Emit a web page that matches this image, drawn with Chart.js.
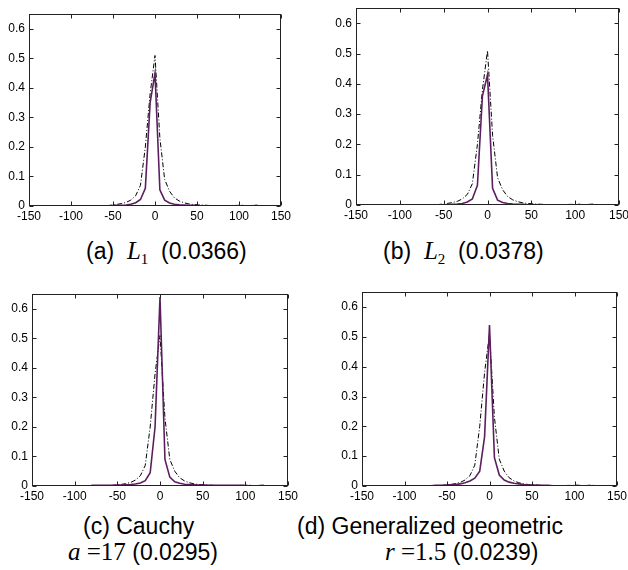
<!DOCTYPE html>
<html>
<head>
<meta charset="utf-8">
<script src="https://cdn.jsdelivr.net/npm/chart.js@4.4.1/dist/chart.umd.min.js"></script>
<style>
    body {
        margin: 0;
        width: 628px;
        height: 570px;
        background: #ffffff;
        position: relative;
        overflow: hidden;
        font-family: "Liberation Sans", Arial, sans-serif;
    }
    .panel { position: absolute; }
    .cap {
        position: absolute;
        font-size: 23px;
        line-height: 23px;
        white-space: nowrap;
        color: #000;
    }
    .mi { font-family: "Liberation Serif", serif; font-style: italic; font-size: 25px; line-height: 23px; }
    .mr { font-family: "Liberation Serif", serif; font-size: 25px; line-height: 23px; }
    .sub { font-family: "Liberation Serif", serif; font-size: 15px; line-height: 15px; position: relative; top: 5px; }
</style>
</head>
<body>

<div class="panel" id="pa"><canvas id="chartA"></canvas></div>
<div class="panel" id="pb"><canvas id="chartB"></canvas></div>
<div class="panel" id="pc"><canvas id="chartC"></canvas></div>
<div class="panel" id="pd"><canvas id="chartD"></canvas></div>

<div class="cap" style="left:86px; top:239px;">(a)&nbsp;&nbsp;<span class="mi">L</span><span class="sub">1</span>&nbsp;&nbsp;(0.0366)</div>
<div class="cap" style="left:383px; top:239px;">(b)&nbsp;&nbsp;<span class="mi">L</span><span class="sub">2</span>&nbsp;&nbsp;(0.0378)</div>
<div class="cap" style="left:83px; top:515px;">(c) Cauchy</div>
<div class="cap" style="left:68px; top:540px;"><span class="mi">a</span><span class="mr"> =17</span> (0.0295)</div>
<div class="cap" style="left:297px; top:515px;">(d) Generalized geometric</div>
<div class="cap" style="left:385px; top:540px;"><span class="mi">r</span><span class="mr"> =1.5</span> (0.0239)</div>

<script>
/* ===========================================
   DATA
=========================================== */

const xTicks = [-150, -100, -50, 0, 50, 100, 150];
const yTicks = [0, 0.1, 0.2, 0.3, 0.4, 0.5, 0.6];

// histogram bin centres
const bins = [
    -80.5, -74.8, -69, -63.3, -57.5, -51.8, -46, -40.3, -34.5, -28.8,
    -23, -17.3, -11.5, -5.8, 0, 5.8, 11.5, 17.3, 23, 28.8,
    34.5, 40.3, 46, 51.8, 57.5, 63.3, 69, 74.8, 80.5, 86.3,
    92, 97.8, 103.5, 109.3, 115, 120.8, 126.5, 132.3, 138, 143.8,
    149.5
];

// observed histogram (dash-dot, same in every panel)
const observed = [
    0, 0, 0, 0.001, 0.001, 0.003, 0.005, 0.008, 0.012, 0.02,
    0.035, 0.07, 0.2, 0.38, 0.51, 0.23, 0.09, 0.05, 0.028, 0.017,
    0.011, 0.007, 0.005, 0.004, 0.003, 0.002, 0.001, 0.001, 0.001, 0.001,
    0.002, 0.002, 0.003, 0.001, 0.002, 0.003, 0, 0, 0, 0,
    0
];

// fitted models (solid)
const fitL1 = [
    0.001, 0.001, 0.001, 0.001, 0.001, 0.001, 0.002, 0.002, 0.003, 0.006,
    0.011, 0.022, 0.06, 0.35, 0.45, 0.055, 0.02, 0.01, 0.006, 0.004,
    0.003, 0.002, 0.002, 0.001, 0.001, 0.001, 0.001, 0.001, 0.001, 0.001,
    0.001, 0.001, 0, 0, 0, 0, 0, 0, 0, 0,
    0
];

const fitL2 = [
    0.001, 0.001, 0.001, 0.001, 0.001, 0.001, 0.001, 0.002, 0.003, 0.005,
    0.01, 0.02, 0.065, 0.36, 0.43, 0.055, 0.016, 0.008, 0.005, 0.003,
    0.002, 0.002, 0.001, 0.001, 0.001, 0.001, 0.001, 0.001, 0.001, 0.001,
    0, 0, 0, 0, 0, 0, 0, 0, 0, 0,
    0
];

const fitCauchy = [
    0.002, 0.002, 0.002, 0.002, 0.002, 0.003, 0.003, 0.004, 0.005, 0.007,
    0.01, 0.018, 0.045, 0.2, 0.64, 0.09, 0.03, 0.014, 0.009, 0.006,
    0.005, 0.004, 0.003, 0.003, 0.002, 0.002, 0.002, 0.002, 0.002, 0.002,
    0.002, 0.002, 0.001, 0.001, 0.001, 0.001, 0.001, 0.001, 0.001, 0.001,
    0.001
];

const fitGeometric = [
    0.001, 0.001, 0.001, 0.002, 0.002, 0.003, 0.004, 0.005, 0.007, 0.011,
    0.017, 0.026, 0.05, 0.165, 0.54, 0.095, 0.037, 0.02, 0.013, 0.009,
    0.007, 0.005, 0.004, 0.003, 0.002, 0.002, 0.002, 0.001, 0.001, 0.001,
    0.001, 0.001, 0.001, 0.001, 0.001, 0.001, 0.001, 0.001, 0.001, 0.001,
    0.001
];

/* ===========================================
   LAYOUT (plot boxes in page pixels)
=========================================== */

const Y_AXIS_W = 30;
const X_AXIS_H = 22;
const PAD_TOP = 10;
const PAD_RIGHT = 14;

const panels = [
    { wrap: "pa", canvas: "chartA", fit: fitL1,        box: [29, 13, 281, 206] },
    { wrap: "pb", canvas: "chartB", fit: fitL2,        box: [356, 7, 619, 205] },
    { wrap: "pc", canvas: "chartC", fit: fitCauchy,    box: [32, 293, 288, 486] },
    { wrap: "pd", canvas: "chartD", fit: fitGeometric, box: [362, 291, 617, 486] }
];

/* ===========================================
   BOX + INWARD TICKS (matlab style)
=========================================== */

const boxTicks = {
    id: "boxTicks",
    afterDraw(chart) {
        const ctx = chart.ctx;
        const a = chart.chartArea;
        const sx = chart.scales.x;
        const sy = chart.scales.y;
        const L = Math.round(a.left) + 0.5;
        const R = Math.round(a.right) - 0.5;
        const T = Math.round(a.top) + 0.5;
        const B = Math.round(a.bottom) - 0.5;
        const len = 4;

        ctx.save();
        ctx.strokeStyle = "#222";
        ctx.lineWidth = 1;
        ctx.strokeRect(L, T, R - L, B - T);
        ctx.beginPath();
        xTicks.forEach(v => {
            const px = Math.round(sx.getPixelForValue(v)) + 0.5;
            ctx.moveTo(px, B); ctx.lineTo(px, B - len);
            ctx.moveTo(px, T); ctx.lineTo(px, T + len);
        });
        yTicks.forEach(v => {
            const py = Math.round(sy.getPixelForValue(v)) + 0.5;
            ctx.moveTo(L, py); ctx.lineTo(L + len, py);
            ctx.moveTo(R, py); ctx.lineTo(R - len, py);
        });
        ctx.stroke();
        ctx.restore();
    }
};

/* ===========================================
   CHARTS
=========================================== */

Chart.defaults.font.family = "'Liberation Sans', Arial, sans-serif";
Chart.defaults.color = "#000000";

function toPoints(values) {
    return bins.map((x, i) => ({ x: x, y: values[i] }));
}

panels.forEach(p => {

    const [left, top, right, bottom] = p.box;
    const w = (right - left) + Y_AXIS_W + PAD_RIGHT;
    const h = (bottom - top) + PAD_TOP + X_AXIS_H;

    const wrap = document.getElementById(p.wrap);
    wrap.style.left = (left - Y_AXIS_W) + "px";
    wrap.style.top = (top - PAD_TOP) + "px";
    wrap.style.width = w + "px";
    wrap.style.height = h + "px";

    const canvas = document.getElementById(p.canvas);
    canvas.width = w;
    canvas.height = h;

    new Chart(canvas, {

        type: "line",

        data: {
            datasets: [
                {
                    label: "fit",
                    data: toPoints(p.fit),
                    borderColor: "#5b1f5f",
                    borderWidth: 1.6,
                    pointRadius: 0,
                    tension: 0,
                    order: 0
                },
                {
                    label: "observed",
                    data: toPoints(observed),
                    borderColor: "#000000",
                    borderWidth: 1,
                    borderDash: [5, 2, 1, 2],
                    pointRadius: 0,
                    tension: 0,
                    order: 1
                }
            ]
        },

        options: {
            responsive: false,
            animation: false,
            layout: {
                padding: { left: 0, top: PAD_TOP, right: PAD_RIGHT, bottom: 0 }
            },
            plugins: {
                legend: { display: false },
                tooltip: { enabled: false }
            },
            scales: {
                x: {
                    type: "linear",
                    min: -150,
                    max: 150,
                    afterBuildTicks: s => { s.ticks = xTicks.map(v => ({ value: v })); },
                    afterFit: s => { s.height = X_AXIS_H; },
                    grid: { display: false, drawTicks: false },
                    border: { display: false },
                    ticks: {
                        font: { size: 12 },
                        padding: 3,
                        maxRotation: 0,
                        autoSkip: false,
                        callback: v => String(v)
                    }
                },
                y: {
                    type: "linear",
                    min: 0,
                    max: 0.65,
                    afterBuildTicks: s => { s.ticks = yTicks.map(v => ({ value: v })); },
                    afterFit: s => { s.width = Y_AXIS_W; },
                    grid: { display: false, drawTicks: false },
                    border: { display: false },
                    ticks: {
                        font: { size: 12 },
                        padding: 4,
                        autoSkip: false,
                        callback: v => String(v)
                    }
                }
            }
        },

        plugins: [boxTicks]
    });
});
</script>
</body>
</html>
